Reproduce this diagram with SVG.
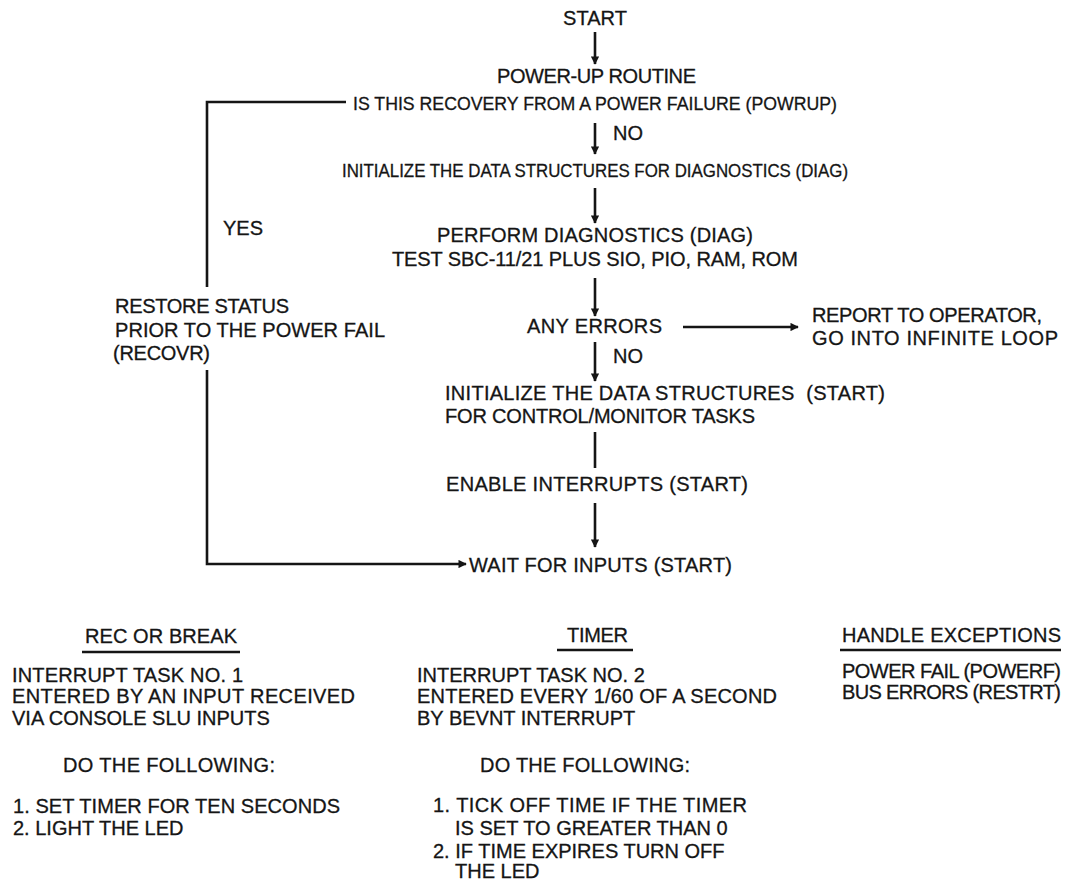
<svg xmlns="http://www.w3.org/2000/svg" width="1071" height="881" viewBox="0 0 1071 881">
<defs>
<style>
text{font-family:"Liberation Sans",Arial,Helvetica,sans-serif;font-size:20px;fill:#151515;stroke:#151515;stroke-width:0.3}
.s{font-size:18.5px}
.ln{stroke:#151515;stroke-width:2.6;fill:none}
.ul{stroke:#151515;stroke-width:2.4;fill:none}
</style>
<marker id="ah" viewBox="0 0 10 10" refX="9" refY="5" markerWidth="3.8" markerHeight="3.2" orient="auto" markerUnits="strokeWidth">
<path d="M0,0 L10,5 L0,10 z" fill="#151515"/>
</marker>
</defs>
<rect width="1071" height="881" fill="#ffffff"/>

<g id="connectors">
<line class="ln" x1="595" y1="32" x2="595" y2="64" marker-end="url(#ah)"/>
<line class="ln" x1="595" y1="123" x2="595" y2="154" marker-end="url(#ah)"/>
<line class="ln" x1="595" y1="188" x2="595" y2="223" marker-end="url(#ah)"/>
<line class="ln" x1="595" y1="278" x2="595" y2="316" marker-end="url(#ah)"/>
<line class="ln" x1="683" y1="327" x2="798" y2="327" marker-end="url(#ah)"/>
<line class="ln" x1="595" y1="342" x2="595" y2="381" marker-end="url(#ah)"/>
<line class="ln" x1="595" y1="432" x2="595" y2="468"/>
<line class="ln" x1="595" y1="503" x2="595" y2="547" marker-end="url(#ah)"/>
<polyline class="ln" points="346,102 207,102 207,287"/>
<polyline class="ln" points="207,370 207,564 466,564" marker-end="url(#ah)"/>
<text x="613" y="140">NO</text>
<text x="223" y="235">YES</text>
<text x="613" y="363">NO</text>
</g>

<g id="n-start"><text x="563" y="25" textLength="64">START</text></g>
<g id="n-powrup">
<text x="497" y="83" textLength="199">POWER-UP ROUTINE</text>
<text class="s" x="353" y="110" textLength="484" lengthAdjust="spacingAndGlyphs">IS THIS RECOVERY FROM A POWER FAILURE (POWRUP)</text>
</g>
<g id="n-init-diag"><text class="s" x="342" y="177" textLength="506" lengthAdjust="spacingAndGlyphs">INITIALIZE THE DATA STRUCTURES FOR DIAGNOSTICS (DIAG)</text></g>
<g id="n-diag">
<text x="437" y="242" textLength="316">PERFORM DIAGNOSTICS (DIAG)</text>
<text x="392" y="266" textLength="406">TEST SBC-11/21 PLUS SIO, PIO, RAM, ROM</text>
</g>
<g id="n-errors"><text x="527" y="333" textLength="135">ANY ERRORS</text></g>
<g id="n-report">
<text x="812" y="322" textLength="230">REPORT TO OPERATOR,</text>
<text x="812" y="345" textLength="246">GO INTO INFINITE LOOP</text>
</g>
<g id="n-recovr">
<text x="115" y="313" textLength="174">RESTORE STATUS</text>
<text x="115" y="337" textLength="270">PRIOR TO THE POWER FAIL</text>
<text x="113" y="360" textLength="97">(RECOVR)</text>
</g>
<g id="n-init-start">
<text x="445" y="400" textLength="440" xml:space="preserve">INITIALIZE THE DATA STRUCTURES  (START)</text>
<text x="445" y="423" textLength="310">FOR CONTROL/MONITOR TASKS</text>
</g>
<g id="n-enable"><text x="446" y="491" textLength="302">ENABLE INTERRUPTS (START)</text></g>
<g id="n-wait"><text x="469" y="572" textLength="263">WAIT FOR INPUTS (START)</text></g>

<g id="n-rec">
<text x="85" y="643" textLength="152">REC OR BREAK</text>
<line class="ul" x1="82" y1="652" x2="240" y2="652"/>
<text x="12" y="682" textLength="231">INTERRUPT TASK NO. 1</text>
<text x="12" y="703" textLength="343">ENTERED BY AN INPUT RECEIVED</text>
<text x="12" y="725">VIA CONSOLE SLU INPUTS</text>
<text x="63" y="772" textLength="212">DO THE FOLLOWING:</text>
<text x="13" y="813" textLength="327">1. SET TIMER FOR TEN SECONDS</text>
<text x="13" y="835">2. LIGHT THE LED</text>
</g>
<g id="n-timer">
<text x="567" y="642" textLength="61">TIMER</text>
<line class="ul" x1="557" y1="650" x2="633" y2="650"/>
<text x="417" y="682">INTERRUPT TASK NO. 2</text>
<text x="417" y="703" textLength="360">ENTERED EVERY 1/60 OF A SECOND</text>
<text x="417" y="725">BY BEVNT INTERRUPT</text>
<text x="480" y="772" textLength="210">DO THE FOLLOWING:</text>
<text x="433" y="812" textLength="314">1. TICK OFF TIME IF THE TIMER</text>
<text x="455" y="835">IS SET TO GREATER THAN 0</text>
<text x="433" y="858">2. IF TIME EXPIRES TURN OFF</text>
<text x="455" y="878">THE LED</text>
</g>
<g id="n-exc">
<text x="842" y="642" textLength="219">HANDLE EXCEPTIONS</text>
<line class="ul" x1="840" y1="650" x2="1061" y2="650"/>
<text x="842" y="678" textLength="219">POWER FAIL (POWERF)</text>
<text x="842" y="699" textLength="219">BUS ERRORS (RESTRT)</text>
</g>
</svg>
